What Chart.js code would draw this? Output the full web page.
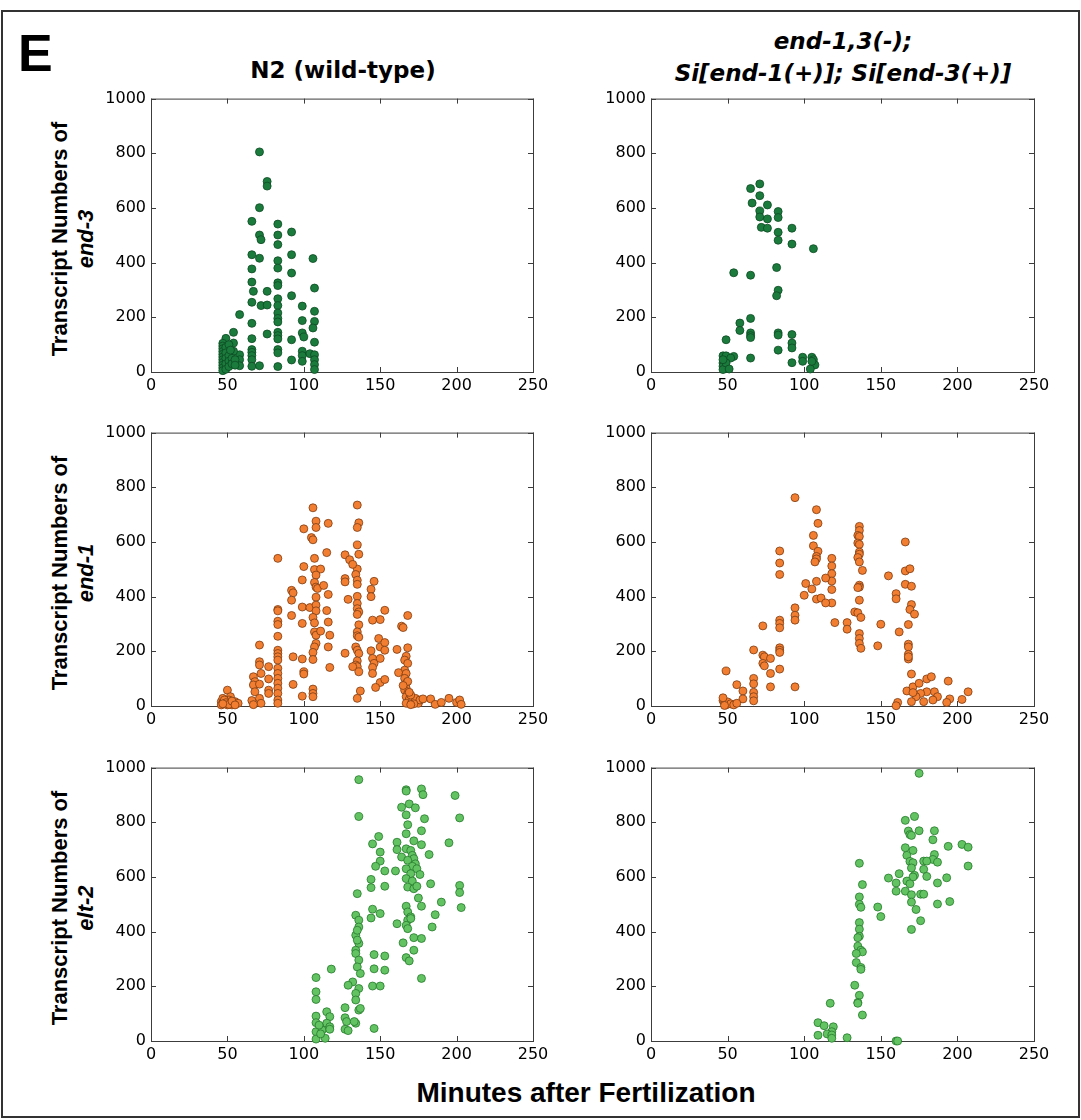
<!DOCTYPE html>
<html><head><meta charset="utf-8">
<script src="https://cdn.jsdelivr.net/npm/chart.js@4.4.0/dist/chart.umd.min.js"></script>
<style>
body{margin:0;background:#fff;width:1081px;height:1120px;position:relative;overflow:hidden}
#frame{position:absolute;left:1px;top:10px;width:1079px;height:1108px;border:2px solid #333;box-sizing:border-box}
.t{position:absolute;white-space:nowrap;color:#000}
canvas{position:absolute}
</style></head>
<body>
<div id="frame"></div>
<script>
// ---------- DATA (minutes after fertilization, transcript count) ----------
const xTicks = [0, 50, 100, 150, 200, 250];
const yTicks = [0, 200, 400, 600, 800, 1000];
const columnTitles = ["N2 (wild-type)", ["end-1,3(-);", "Si[end-1(+)]; Si[end-3(+)]"]];
const geneNames = ["end-3", "end-1", "elt-2"];
const xTitle = "Minutes after Fertilization";
const yTitlePrefix = "Transcript Numbers of";

const end3_N2 = [[71,805],[76,697],[76,680],[71,601],[66,551],[71,501],[72,484],[83,541],[83,501],[83,466],[92,512],[66,429],[71,416],[83,407],[83,380],[92,429],[106,415],[66,377],[66,329],[67,295],[76,295],[83,326],[83,316],[92,362],[107,307],[66,255],[72,243],[76,245],[83,268],[83,243],[83,216],[92,279],[99,241],[107,222],[58,210],[66,178],[83,196],[83,183],[99,188],[107,185],[106,161],[54,145],[76,139],[83,145],[83,133],[83,121],[92,118],[99,143],[100,128],[107,109],[49,123],[54,106],[66,122],[66,82],[66,72],[66,60],[66,45],[66,21],[58,63],[58,45],[58,23],[54,76],[71,23],[83,82],[83,70],[83,20],[92,44],[99,76],[99,60],[99,39],[104,67],[107,63],[107,45],[107,27],[107,9],[47,105],[47,95],[47,85],[47,75],[47,65],[47,55],[47,45],[47,35],[47,25],[47,15],[47,5],[49,90],[49,70],[49,50],[49,30],[49,10],[51,100],[51,60],[51,40],[51,20],[52,80],[53,50],[53,30],[55,45],[55,25]];

const end3_Si = [[71,688],[65,671],[71,645],[66,618],[76,611],[71,589],[71,567],[83,587],[83,565],[76,560],[72,529],[76,526],[92,526],[83,511],[83,482],[92,468],[106,451],[54,363],[65,354],[82,382],[83,299],[82,279],[65,196],[58,179],[58,152],[65,143],[65,133],[65,126],[49,118],[83,143],[83,135],[92,137],[92,106],[92,88],[83,80],[65,51],[92,34],[99,54],[99,39],[105,54],[106,45],[107,26],[104,11],[105,39],[47,59],[49,59],[54,57],[52,51],[47,33],[47,21],[47,9],[49,33],[51,11],[47,45]];

const end1_N2 = [[106,725],[135,735],[108,676],[108,653],[116,668],[100,648],[105,616],[106,608],[115,561],[83,540],[107,540],[100,510],[107,499],[111,501],[108,479],[99,461],[107,452],[108,435],[109,430],[113,441],[92,423],[93,414],[92,387],[108,398],[116,408],[83,353],[83,348],[99,362],[104,360],[108,369],[108,348],[92,331],[83,310],[83,298],[99,302],[106,324],[107,304],[116,307],[115,349],[83,255],[107,271],[108,259],[111,274],[117,259],[116,216],[108,229],[107,216],[106,196],[106,170],[71,223],[83,204],[83,192],[83,180],[83,168],[93,180],[99,172],[117,141],[71,162],[71,150],[77,144],[72,119],[77,99],[67,107],[68,89],[67,77],[68,52],[71,80],[83,138],[83,119],[83,101],[83,83],[83,65],[83,46],[83,22],[83,10],[100,125],[100,117],[93,79],[77,58],[77,46],[71,28],[72,10],[99,36],[106,62],[106,46],[106,34],[50,58],[52,34],[66,20],[67,5],[55,10],[46,16],[48,10],[51,22],[53,4],[55,16],[57,10],[47,28],[50,4],[52,12],[46,4],[48,22],[49,12],[51,6],[53,18],[55,4],[47,8],
[136,670],[135,653],[135,589],[136,555],[135,501],[134,481],[135,460],[135,445],[135,401],[135,375],[135,356],[136,344],[135,335],[136,297],[135,271],[135,257],[136,252],[134,216],[135,204],[136,192],[135,165],[134,150],[135,144],[136,125],[137,55],[135,28],
[127,553],[130,535],[132,518],[127,466],[127,454],[129,390],[127,193],[132,144],
[146,456],[144,427],[144,400],[145,314],[149,247],[150,216],[144,202],[145,174],[146,156],[145,141],[145,119],[150,86],[147,68],[153,97],[153,350],[150,316],[153,232],[153,204],[150,174],[161,207],[168,213],[168,331],[164,292],[165,287],
[167,182],[166,168],[168,156],[166,131],[162,122],[167,119],[166,101],[167,83],[167,65],[166,58],[168,46],[167,34],[169,24],[167,10],[171,16],[173,28],[175,10],[176,22],[178,26],[183,26],[186,6],[190,13],[195,28],[200,13],[202,22],[203,6],[168,90],[170,40],[165,75],[169,50],[172,8],[170,5]];

const end1_Si = [[94,762],[108,718],[109,668],[106,624],[106,586],[109,566],[108,547],[108,538],[107,527],[84,567],[84,523],[84,481],[118,540],[118,512],[118,484],[118,457],[118,426],[118,377],[114,468],[108,456],[105,428],[101,448],[100,405],[108,391],[111,395],[114,377],[120,305],[94,359],[94,332],[94,314],[84,314],[84,302],[84,286],[73,293],[84,213],[84,204],[84,196],[73,186],[74,180],[73,156],[74,147],[67,205],[78,174],[84,135],[78,119],[67,101],[67,81],[78,70],[94,70],[56,78],[60,55],[60,26],[67,50],[67,34],[67,19],[49,128],[47,20],[48,10],[49,4],[50,15],[52,8],[54,4],[56,10],[47,30],[48,2],
[136,657],[136,642],[135,624],[136,620],[135,596],[136,591],[136,563],[136,555],[135,543],[136,527],[138,496],[136,442],[136,435],[135,433],[136,387],[133,344],[135,341],[137,324],[136,265],[136,247],[136,229],[137,211],
[128,305],[128,281],[150,299],[148,220],
[166,600],[166,494],[169,502],[155,476],[166,445],[170,438],[160,411],[160,392],[170,371],[169,353],[172,336],[168,298],[162,271],[168,226],[168,216],[168,189],[168,172],[168,180],[170,117],
[167,55],[171,70],[175,83],[180,99],[183,107],[194,91],[207,52],[203,24],[195,26],[193,13],[185,52],[187,34],[184,22],[180,52],[178,16],[176,46],[173,34],[170,16],[171,49],[161,13],[160,1]];

const elt2_N2 = [[136,956],[136,821],[167,919],[167,914],[177,922],[178,901],[199,898],[202,816],[164,855],[169,867],[173,853],[167,827],[179,813],[168,791],[167,758],[177,769],[149,748],[145,721],[161,727],[172,732],[177,718],[195,725],[150,691],[161,700],[150,658],[164,673],[182,682],
[167,703],[170,697],[171,679],[172,667],[168,661],[173,648],[171,639],[167,630],[174,630],[170,612],[176,609],[167,594],[171,585],[168,563],[172,557],[174,566],
[147,639],[153,622],[160,622],[144,591],[144,561],[153,566],[183,575],[135,539],[175,523],[177,493],[190,508],[202,569],[202,543],[203,488],
[167,493],[168,472],[170,454],[168,442],[167,423],[168,411],[170,448],[186,462],[184,417],[145,482],[144,450],[150,466],[161,429],[172,378],[177,375],[165,359],[172,332],[167,305],[169,293],[177,229],
[134,460],[136,442],[136,417],[134,387],[136,357],[134,332],[134,320],[136,296],[135,271],[137,247],[132,216],[136,192],[134,174],[134,150],[136,113],[134,65],[137,119],[135,405],[135,369],
[129,204],[145,201],[150,201],[146,316],[153,311],[146,264],[153,259],
[127,122],[127,85],[128,71],[127,43],[129,38],[133,71],[146,46],[118,263],[108,232],[108,180],[108,152],[108,91],[108,67],[108,34],[108,7],
[115,107],[117,89],[115,65],[117,52],[112,40],[114,10],[110,58],[111,26],[117,43]];

const elt2_Si = [[175,979],[172,821],[166,807],[168,768],[169,755],[170,752],[175,769],[185,769],[184,736],[194,712],[203,719],[207,709],[166,707],[171,697],[167,679],[185,682],[184,664],[178,658],[180,658],[187,654],[169,657],[171,652],[170,633],[178,628],[207,640],[136,650],[155,596],[162,612],[172,606],[171,600],[180,602],[193,597],[187,578],[160,578],[167,585],[169,575],[138,572],[160,548],[166,548],[170,535],[176,537],[178,537],[170,508],[187,501],[195,510],[136,527],[136,500],[137,489],[148,490],[150,455],[173,481],[176,440],[170,408],
[136,433],[136,409],[136,383],[135,378],[135,347],[137,332],[138,326],[134,320],[134,287],[137,269],[137,262],
[133,204],[136,167],[135,141],[135,138],[138,95],[117,138],[109,67],[113,56],[119,52],[118,34],[115,26],[118,22],[118,10],[109,21],[128,12],[160,0],[161,0]];

// ---------- STYLE ----------
const rowColors = [
  {bg:'#1b7b3d', border:'#0c4a22'},
  {bg:'#f27e31', border:'#7c3b12'},
  {bg:'#63c363', border:'#247a2b'}
];
const panels = [
  [end3_N2, end3_Si],
  [end1_N2, end1_Si],
  [elt2_N2, elt2_Si]
];
const colLeft = [151, 651], colW = [382, 383];
const rowTop = [98, 432, 767], plotH = 274;
const PADL = 60, PADT = 14, PADR = 24, PADB = 32;

const boxPlugin = {
  id: 'box',
  beforeDatasetsDraw(chart) {
    const {ctx, chartArea: a, scales: {x, y}} = chart;
    ctx.save();
    ctx.strokeStyle = '#3c3c3c';
    ctx.lineWidth = 1;
    ctx.strokeRect(a.left + 0.5, a.top + 0.5, a.right - a.left, a.bottom - a.top);
    ctx.beginPath();
    const L = 5;
    x.ticks.forEach(t => {
      const px = Math.round(x.getPixelForValue(t.value)) + 0.5;
      ctx.moveTo(px, a.bottom); ctx.lineTo(px, a.bottom - L);
      ctx.moveTo(px, a.top); ctx.lineTo(px, a.top + L);
    });
    y.ticks.forEach(t => {
      const py = Math.round(y.getPixelForValue(t.value)) + 0.5;
      ctx.moveTo(a.left, py); ctx.lineTo(a.left + L, py);
      ctx.moveTo(a.right, py); ctx.lineTo(a.right - L, py);
    });
    ctx.stroke();
    ctx.restore();
  }
};

const tickFont = {family: "'DejaVu Sans', sans-serif", size: 16};

function makePanel(r, c) {
  const cv = document.createElement('canvas');
  const w = colW[c] + PADL + PADR, h = plotH + PADT + PADB;
  cv.width = w; cv.height = h;
  cv.style.left = (colLeft[c] - PADL) + 'px';
  cv.style.top = (rowTop[r] - PADT) + 'px';
  cv.style.width = w + 'px'; cv.style.height = h + 'px';
  document.body.appendChild(cv);
  const pts = panels[r][c].map(p => ({x: p[0], y: p[1]}));
  new Chart(cv, {
    type: 'scatter',
    data: {datasets: [{
      data: pts,
      backgroundColor: rowColors[r].bg,
      borderColor: rowColors[r].border,
      pointRadius: 4,
      pointBorderWidth: 0.8,
      clip: false
    }]},
    options: {
      responsive: false, animation: false, events: [],
      layout: {padding: {left: 0, top: PADT, right: PADR, bottom: 0}},
      plugins: {legend: {display: false}, tooltip: {enabled: false}},
      scales: {
        x: {
          type: 'linear', min: xTicks[0], max: xTicks[xTicks.length - 1],
          afterBuildTicks: s => { s.ticks = xTicks.map(v => ({value: v})); },
          afterFit: s => { s.height = PADB; },
          grid: {display: false, drawTicks: false},
          border: {display: false},
          ticks: {font: tickFont, color: '#000', padding: 4, maxRotation: 0, autoSkip: false,
                  callback: v => String(v)}
        },
        y: {
          type: 'linear', min: yTicks[0], max: yTicks[yTicks.length - 1],
          afterBuildTicks: s => { s.ticks = yTicks.map(v => ({value: v})); },
          afterFit: s => { s.width = PADL; },
          grid: {display: false, drawTicks: false},
          border: {display: false},
          ticks: {font: tickFont, color: '#000', padding: 5, autoSkip: false,
                  callback: v => String(v)}
        }
      }
    },
    plugins: [boxPlugin]
  });
}

// ---------- TEXT ----------
const DJ = {asc: 0.928, desc: 0.236, fam: "'DejaVu Sans', sans-serif"};
const LB = {asc: 0.905, desc: 0.212, fam: "'Liberation Sans', Arial, sans-serif"};
function addText(txt, cx, baseline, size, f, italic, align) {
  const d = document.createElement('div');
  d.className = 't';
  d.textContent = txt;
  d.style.font = (italic ? 'italic ' : '') + 'bold ' + size + 'px ' + f.fam;
  d.style.lineHeight = ((f.asc + f.desc) * size) + 'px';
  d.style.top = (baseline - f.asc * size) + 'px';
  d.style.left = cx + 'px';
  if (align !== 'left') d.style.transform = 'translateX(-50%)';
  document.body.appendChild(d);
}
function addVText(txt, cx, cy, size, f, italic) {
  const d = document.createElement('div');
  d.className = 't';
  d.textContent = txt;
  d.style.font = (italic ? 'italic ' : '') + 'bold ' + size + 'px ' + f.fam;
  d.style.lineHeight = ((f.asc + f.desc) * size) + 'px';
  d.style.left = cx + 'px';
  d.style.top = cy + 'px';
  d.style.transform = 'translate(-50%,-50%) rotate(-90deg)';
  document.body.appendChild(d);
}

addText('E', 18, 71, 52, LB, false, 'left');
addText(columnTitles[0], 343, 78, 23, DJ, false);
addText(columnTitles[1][0], 843, 49, 23, DJ, true);
addText(columnTitles[1][1], 843, 81, 23, DJ, true);
addText(xTitle, 586, 1102, 28, LB, false);
for (let r = 0; r < 3; r++) {
  const cy = rowTop[r] + plotH / 2 + 4;
  addVText(yTitlePrefix, 60, cy, 22, LB, false);
  addVText(geneNames[r], 86, cy, 22, LB, true);
}
for (let r = 0; r < 3; r++) for (let c = 0; c < 2; c++) makePanel(r, c);
</script>
</body></html>
